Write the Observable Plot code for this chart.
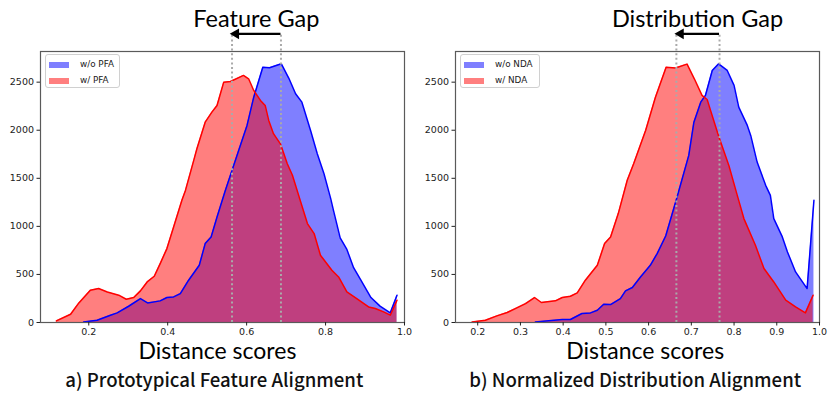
<!DOCTYPE html>
<html>
<head>
<meta charset="utf-8">
<script src="https://cdn.jsdelivr.net/npm/d3@7"></script>
<script src="https://cdn.jsdelivr.net/npm/@observablehq/plot@0.6"></script>
<style>
  html, body { margin: 0; padding: 0; background: #fff; }
  #wrap { display: flex; width: 830px; height: 396px; }
  .panel { position: relative; width: 415px; height: 396px; }
  .legend { position: absolute; top: 54px; height: 34px; border: 1px solid #d0d0d0; border-radius: 3px; background: rgba(255,255,255,0.85); box-sizing: border-box; font-family: "DejaVu Sans", sans-serif; font-size: 8.8px; color: #222; }
  .item { position: absolute; left: 3px; height: 10px; }
  .patch { position: absolute; left: 0; top: 1.5px; width: 19.5px; height: 6.8px; }
  .lab { position: absolute; left: 31px; top: -1px; white-space: nowrap; }
</style>
</head>
<body>
<div id="wrap"></div>
<script>
// ---- Panel a: Prototypical Feature Alignment ----
const aBlueX = [0.187,0.221,0.255,0.272,0.301,0.331,0.349,0.381,0.398,0.415,0.432,0.453,0.480,0.495,0.510,0.525,0.546,0.580,0.601,0.618,0.641,0.658,0.688,0.707,0.724,0.740,0.762,0.779,0.796,0.813,0.820,0.837,0.854,0.871,0.888,0.915,0.938,0.964,0.981];
const aBlueY = [6,24,76,100,169,249,204,225,260,266,301,440,595,821,890,1097,1374,1791,2050,2344,2656,2650,2691,2540,2380,2292,1998,1756,1548,1288,1167,880,760,570,450,260,170,100,284];
const aRedX = [0.118,0.154,0.175,0.204,0.225,0.247,0.276,0.295,0.314,0.331,0.348,0.366,0.381,0.398,0.415,0.436,0.445,0.466,0.474,0.495,0.512,0.525,0.542,0.559,0.592,0.605,0.618,0.635,0.647,0.656,0.668,0.686,0.703,0.716,0.737,0.754,0.771,0.787,0.816,0.833,0.854,0.879,0.909,0.926,0.947,0.964,0.981];
const aRedY = [17,86,204,336,353,318,284,242,260,329,422,481,613,769,994,1271,1374,1686,1808,2084,2188,2258,2500,2507,2570,2535,2414,2310,2258,2102,1964,1855,1652,1531,1253,1029,925,699,543,474,318,249,162,145,110,76,232];
const aLabels = ["w/o PFA", "w/ PFA"];
const aGap = [0.563, 0.687];
const aTicks = [0.2, 0.4, 0.6, 0.8, 1.0];

// ---- Panel b: Normalized Distribution Alignment ----
const bBlueX = [0.335,0.366,0.398,0.417,0.444,0.464,0.480,0.495,0.511,0.534,0.546,0.562,0.581,0.604,0.620,0.640,0.665,0.694,0.706,0.722,0.733,0.749,0.764,0.784,0.800,0.811,0.831,0.839,0.854,0.874,0.885,0.893,0.913,0.925,0.944,0.971,0.987];
const bBlueY = [6,17,31,31,94,100,128,190,187,249,329,364,474,595,717,900,1280,1738,2084,2292,2362,2622,2691,2622,2466,2240,2050,1946,1669,1427,1323,1081,890,734,526,353,1271];
const bRedX = [0.187,0.218,0.245,0.269,0.288,0.312,0.333,0.349,0.382,0.398,0.417,0.433,0.452,0.480,0.497,0.511,0.529,0.550,0.565,0.593,0.616,0.641,0.663,0.690,0.707,0.725,0.737,0.745,0.764,0.788,0.807,0.823,0.850,0.870,0.893,0.921,0.944,0.967,0.985];
const bRedY = [6,24,69,104,145,197,260,208,225,260,273,308,440,595,821,890,1133,1479,1652,1998,2344,2656,2648,2688,2535,2362,2320,2206,1938,1630,1330,1081,803,561,422,232,162,100,284];
const bLabels = ["w/o NDA", "w/ NDA"];
const bGap = [0.665, 0.766];
const bTicks = [0.2, 0.3, 0.4, 0.5, 0.6, 0.7, 0.8, 0.9, 1.0];

const yTicks = [0, 500, 1000, 1500, 2000, 2500];
const xLabel = "Distance scores";

function rows(xs, ys) { return xs.map((x, i) => ({x, y: ys[i]})); }

function panel(cfg) {
  const blue = rows(cfg.blueX, cfg.blueY);
  const red = rows(cfg.redX, cfg.redY);
  const topY = 3003;
  const plot = Plot.plot({
    width: 415, height: 396,
    marginLeft: 40, marginRight: 11, marginTop: 51, marginBottom: 74,
    x: {domain: cfg.xDomain},
    y: {domain: [0, 2819]},
    style: {fontFamily: "DejaVu Sans, sans-serif", fontSize: "9.5px", color: "#222", background: "#fff", overflow: "visible"},
    marks: [
      Plot.areaY(blue, {x: "x", y: "y", fill: "#0000ff", fillOpacity: 0.5}),
      Plot.areaY(red, {x: "x", y: "y", fill: "#ff0000", fillOpacity: 0.5}),
      Plot.line(blue, {x: "x", y: "y", stroke: "#0000ff", strokeWidth: 1.5}),
      Plot.line(red, {x: "x", y: "y", stroke: "#ff0000", strokeWidth: 1.5}),
      Plot.ruleX(cfg.gap, {y1: 0, y2: topY, stroke: "#aaaaaa", strokeWidth: 2, strokeDasharray: "2,2.6"}),
      Plot.ruleY([topY], {x1: cfg.gap[1], x2: cfg.gap[0] + 0.012, stroke: "#000", strokeWidth: 2.2}),
      Plot.dot([topY], {x: cfg.gap[0] + 0.01, y: d => d, symbol: "triangle", rotate: -90, r: 4, fill: "#000", stroke: "none"}),
      Plot.frame({stroke: "#5a5a5a", strokeWidth: 1.2}),
      Plot.axisX({ticks: cfg.xTicks, tickFormat: d3.format(".1f"), tickSize: 3.5, tickPadding: 2.5, label: null, fontSize: 9.5}),
      Plot.axisY({ticks: yTicks, tickFormat: d => String(d), tickSize: 3.5, tickPadding: 3, label: null, fontSize: 9.5}),
      Plot.text([cfg.title], {x: cfg.titleX, frameAnchor: "top", dy: -32, text: d => d, fontFamily: "Lato, sans-serif", fontSize: 23.5, fill: "#000", lineAnchor: "middle"}),
      Plot.text([xLabel], {x: cfg.labelX, frameAnchor: "bottom", dy: 29, text: d => d, fontFamily: "Lato, sans-serif", fontSize: 23, fill: "#000", lineAnchor: "middle"}),
      Plot.text([cfg.caption], {x: cfg.captionX, frameAnchor: "bottom", dy: 59, text: d => d, fontFamily: "Noto Sans CJK SC, sans-serif", fontWeight: 500, fontSize: 18.6, fill: "#111", lineAnchor: "middle"})
    ]
  });
  const div = document.createElement("div");
  div.className = "panel";
  div.appendChild(plot);
  const lg = document.createElement("div");
  lg.className = "legend";
  lg.style.left = "45px";
  lg.style.width = cfg.legendW + "px";
  lg.innerHTML =
    `<div class="item" style="top:5px"><div class="patch" style="background:rgba(0,0,255,0.5)"></div><div class="lab">${cfg.labels[0]}</div></div>` +
    `<div class="item" style="top:21px"><div class="patch" style="background:rgba(255,0,0,0.5)"></div><div class="lab">${cfg.labels[1]}</div></div>`;
  div.appendChild(lg);
  document.getElementById("wrap").appendChild(div);
}

panel({blueX: aBlueX, blueY: aBlueY, redX: aRedX, redY: aRedY, labels: aLabels, gap: aGap, xTicks: aTicks,
  xDomain: [0.0777, 1.0], title: "Feature Gap", titleX: 0.6246, labelX: 0.526, captionX: 0.518,
  caption: "a) Prototypical Feature Alignment", legendW: 75});
panel({blueX: bBlueX, blueY: bBlueY, redX: bRedX, redY: bRedY, labels: bLabels, gap: bGap, xTicks: bTicks,
  xDomain: [0.148, 1.0], title: "Distribution Gap", titleX: 0.7145, labelX: 0.592, captionX: 0.5686,
  caption: "b) Normalized Distribution Alignment", legendW: 80});
</script>
</body>
</html>
